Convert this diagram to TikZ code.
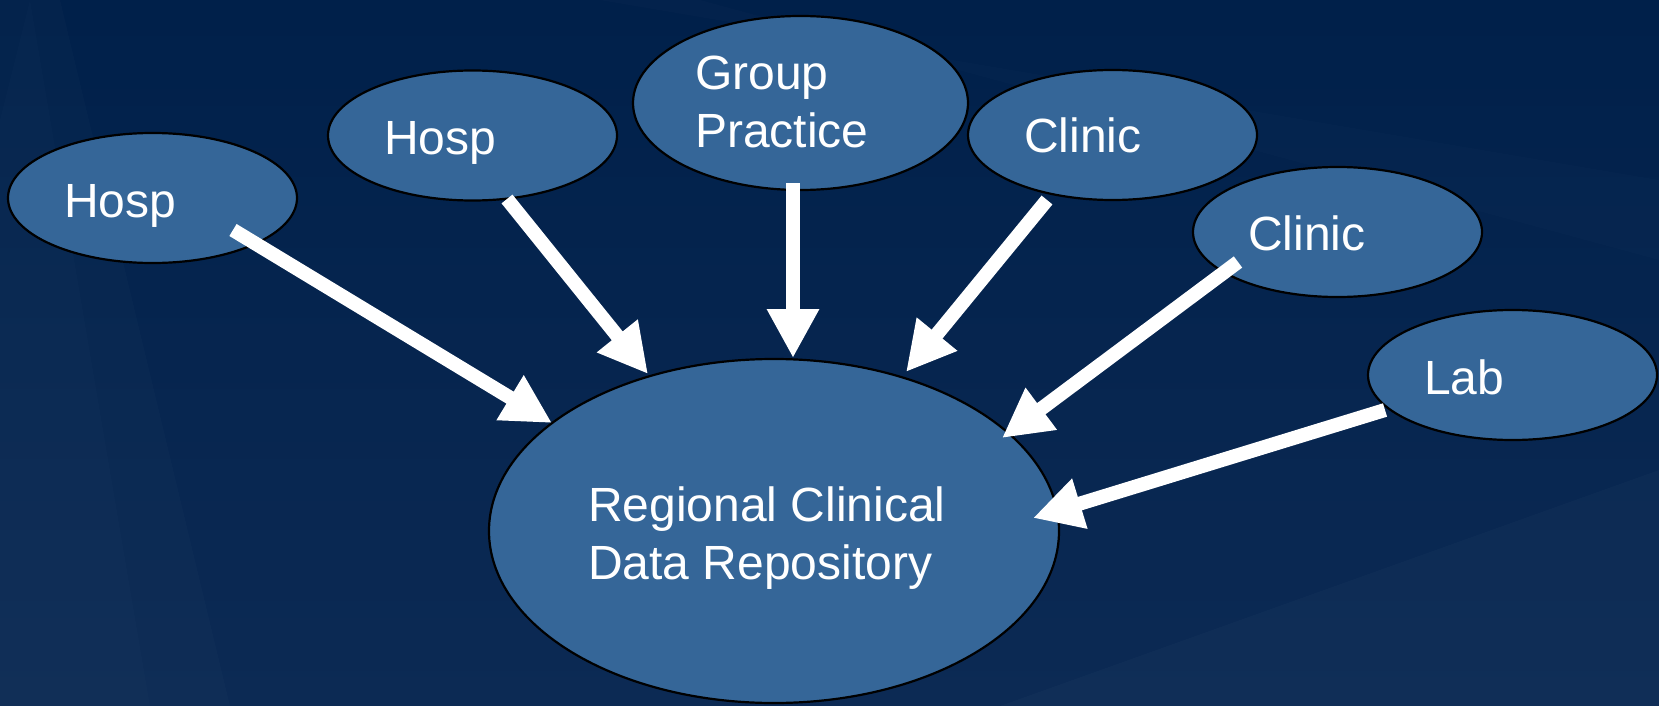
\documentclass[tikz,border=0pt]{standalone}
\usepackage{fontspec}
\setmainfont{Liberation Sans}
\usetikzlibrary{arrows.meta,shapes.geometric,calc}
\definecolor{bgtop}{RGB}{0,32,74}
\definecolor{bgbot}{RGB}{12,42,84}
\definecolor{bubble}{RGB}{53,102,152}
\begin{document}
\begin{tikzpicture}[x=1pt,y=-1pt,
  bub/.style={ellipse,draw=black,line width=2.2pt,fill=bubble,inner sep=0pt},
  small/.style={bub,minimum width=289pt,minimum height=130pt},
  lbl/.style={text=white,inner sep=0pt,anchor=base west,align=left,
    font=\fontsize{48}{57.5}\selectfont},
  flow/.style={draw=white,line width=14pt,-{Triangle[length=49pt,width=49pt]}}]
\useasboundingbox (0,0) rectangle (1659,706);
% background
\fill[top color=bgtop,bottom color=bgbot] (0,0) rectangle (1659,706);
\fill[white,opacity=0.015] (0,0) -- (60,0) -- (230,706) -- (0,706) -- cycle;
\fill[white,opacity=0.012] (0,120) -- (30,0) -- (150,706) -- (0,706) -- cycle;
\fill[white,opacity=0.02] (1000,706) -- (1659,470) -- (1659,706) -- cycle;
\fill[white,opacity=0.012] (600,0) -- (1659,180) -- (1659,260) -- (700,0) -- cycle;
% bubbles
\node[small] (h1) at (152.5,198) {};
\node[small] (h2) at (472.5,135.5) {};
\node[bub,minimum width=335pt,minimum height=174pt] (gp) at (800.5,103) {};
\node[small] (c1) at (1112.5,135) {};
\node[small] (c2) at (1337.5,232) {};
\node[small] (lab) at (1512.5,375) {};
\node[bub,minimum width=570pt,minimum height=344pt] (reg) at (774,531) {};
% labels
\node[lbl] (th1) at (64,217) {Hosp};
\node[lbl] (th2) at (384,154) {Hosp};
\node[lbl] (tgp) at (695,147) {Group\\Practice};
\node[lbl] (tc1) at (1024,153) {Clinic};
\node[lbl] (tc2) at (1248,250) {Clinic};
\node[lbl] (tlab) at (1424,394) {Lab};
\node[lbl] (treg) at (588,579) {Regional Clinical\\Data Repository};
% arrows
\draw[flow] ($(h1.center)+(80.5,32)$) -- ($(reg.center)+(-222,-108)$);
\draw[flow] ($(h2.center)+(34.5,63.5)$) -- ($(reg.center)+(-126,-157)$);
\draw[flow] ($(gp.center)+(-7.5,80)$) -- ($(reg.center)+(19,-173)$);
\draw[flow] ($(c1.center)+(-65.5,65)$) -- ($(reg.center)+(132,-159)$);
\draw[flow] ($(c2.center)+(-99.5,30)$) -- ($(reg.center)+(228,-93)$);
\draw[flow] ($(lab.center)+(-127.5,35)$) -- ($(reg.center)+(259,-13)$);
\end{tikzpicture}
\end{document}
